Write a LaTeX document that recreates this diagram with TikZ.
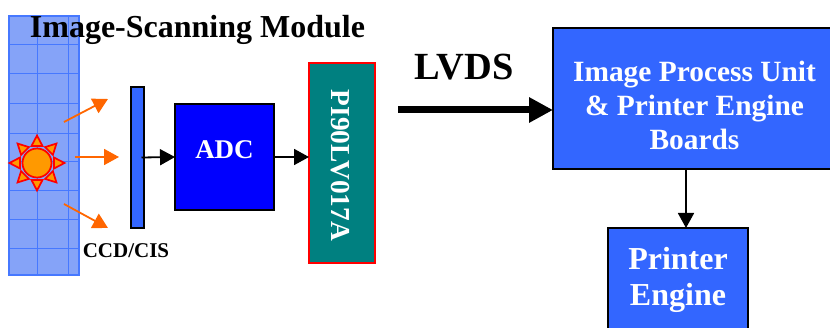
\documentclass[tikz,border=0pt]{standalone}
\usepackage{fontspec}
\setmainfont{Liberation Serif}
\usetikzlibrary{arrows.meta}
\definecolor{panelblue}{RGB}{133,163,248}
\definecolor{gridblue}{RGB}{70,120,255}
\definecolor{boxblue}{RGB}{51,102,255}
\definecolor{pureblue}{RGB}{0,0,255}
\definecolor{tealbox}{RGB}{0,128,128}
\definecolor{rayorange}{RGB}{255,102,0}
\definecolor{sunorange}{RGB}{255,153,0}
\tikzset{
  x=1pt,y=-1pt,
  blockbox/.style={draw=black,line width=2pt,fill=boxblue,text=white,font=\bfseries,inner sep=0pt,outer sep=0pt,align=center,anchor=north west},
  labeltext/.style={font=\bfseries,text=black,inner sep=0pt},
  flow/.style={draw=black,line width=1.8pt,-{Triangle[length=15pt,width=16pt]}},
  light/.style={draw=rayorange,line width=1.8pt,-{Triangle[length=15pt,width=16pt]}},
  ray/.style={draw=red,line width=1.7pt,fill=sunorange,line join=miter},
}
\begin{document}
\begin{tikzpicture}
\useasboundingbox (0,0) rectangle (830,328);
\clip (0,0) rectangle (830,328);
% scanning panel
\node[draw=gridblue,line width=2pt,fill=panelblue,minimum width=70pt,minimum height=259pt,inner sep=0pt,outer sep=0pt,anchor=north west] (panel) at (9,16) {};
\foreach \yy in {44,73,103,133,161,190,219,248}
  \draw[gridblue,line width=.7pt] (9,\yy) -- (79,\yy);
\foreach \xx in {37,68}
  \draw[gridblue,line width=.7pt] (\xx,16) -- (\xx,275);
% sun
\foreach \a in {0,45,...,315}
  \draw[ray,shift={(37,163)},rotate=\a] (27.5,0) -- (17,-5.5) -- (17,5.5) -- cycle;
\node[circle,draw=red,line width=1.7pt,fill=sunorange,minimum size=29pt,inner sep=0pt] (sun) at (37,163) {};
% blocks
\node[blockbox,minimum width=13pt,minimum height=141pt] (ccd) at (131,87) {};
\node[blockbox,fill=pureblue,minimum width=99pt,minimum height=106pt,font=\bfseries\fontsize{27}{27}\selectfont] (adc) at (175,104) {\raisebox{-2pt}[0pt][0pt]{ADC}};
\node[blockbox,draw=red,fill=tealbox,minimum width=66pt,minimum height=200pt] (pi) at (309,63) {};
\node[font=\bfseries\fontsize{27.4}{27.4}\selectfont,text=white,rotate=-90,inner sep=0pt] (pilabel) at (340,165.5) {PI90LV017A};
\node[blockbox,minimum width=283pt,minimum height=141pt,font=\bfseries\fontsize{29.4}{34}\selectfont] (ipu) at (553,28) {\raisebox{-16.5pt}[0pt][0pt]{\begin{tabular}{@{}c@{}}Image Process Unit\\\& Printer Engine\\Boards\end{tabular}}};
\node[blockbox,minimum width=140pt,minimum height=112pt,font=\bfseries\fontsize{32}{36}\selectfont] (printer) at (608,228) {\raisebox{-2.5pt}[0pt][0pt]{\begin{tabular}{@{}c@{}}Printer\\Engine\end{tabular}}};
% labels
\node[labeltext,font=\bfseries\fontsize{32}{32}\selectfont] (title) at (197.5,30) {Image-Scanning Module};
\node[labeltext,font=\bfseries\fontsize{21}{21}\selectfont] (ccdlabel) at (126,251) {CCD/CIS};
\node[labeltext,font=\bfseries\fontsize{38.4}{38.4}\selectfont] (lvds) at (464,67) {LVDS};
% free ends
\coordinate (l1a) at (64,122); \coordinate (l1b) at (108,99);
\coordinate (l2a) at (75,157); \coordinate (l2b) at (119,157);
\coordinate (l3a) at (64,204); \coordinate (l3b) at (108,228);
\coordinate (lvdsstart) at (398,110);
% connectors
\draw[light] (l1a) -- (l1b);
\draw[light] (l2a) -- (l2b);
\draw[light] (l3a) -- (l3b);
\draw[flow] ([xshift=4pt]ccd.center) -- (adc.west);
\draw[flow] (adc.east) -- (adc.east -| pi.west);
\draw[draw=black,line width=7pt,-{Triangle[length=24pt,width=24pt]}] (lvdsstart) -- (lvdsstart -| ipu.west);
\draw[flow] ([xshift=8pt]printer.north |- ipu.south) -- ([xshift=8pt]printer.north);
\end{tikzpicture}
\end{document}
